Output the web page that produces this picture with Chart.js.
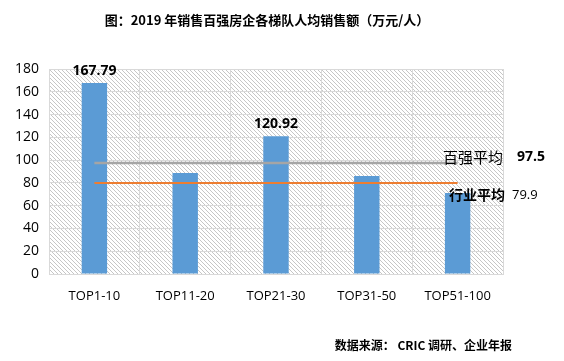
<!DOCTYPE html>
<html>
<head>
<meta charset="utf-8">
<script src="https://cdn.jsdelivr.net/npm/chart.js@4/dist/chart.umd.min.js"></script>
<style>
  html, body { margin: 0; padding: 0; background: #fff; }
  #wrap { width: 564px; height: 361px; position: relative; }
</style>
</head>
<body>
<div id="wrap"><canvas id="chart"></canvas></div>
<script>
// chart data
const categories = ['TOP1-10', 'TOP11-20', 'TOP21-30', 'TOP31-50', 'TOP51-100'];
const perCapitaSales = [167.79, 88.7, 120.92, 86.0, 71.1];
const labelledBars = [0, 2];
const top100Avg = 97.5;
const industryAvg = 79.9;
const yTicks = [0, 20, 40, 60, 80, 100, 120, 140, 160, 180];

const titleText = '图：2019 年销售百强房企各梯队人均销售额（万元/人）';
const sourceText = '数据来源： CRIC 调研、企业年报';

const cjk = '"Noto Sans CJK SC", "Noto Sans", sans-serif';
const latin = '"Open Sans", "Liberation Sans", sans-serif';

// diagonal hatch fill behind the plot area (pixel pattern, "\" direction)
function makeHatch(ctx) {
  const p = document.createElement('canvas');
  p.width = 4; p.height = 4;
  const c = p.getContext('2d');
  c.fillStyle = '#ffffff';
  c.fillRect(0, 0, 4, 4);
  c.fillStyle = '#c6c6c6';
  for (let i = 0; i < 4; i++) c.fillRect(i, i, 1, 1);
  return ctx.createPattern(p, 'repeat');
}

const backgroundPlugin = {
  id: 'hatchBg',
  beforeDraw(chart) {
    const { ctx, chartArea: a } = chart;
    ctx.save();
    ctx.fillStyle = makeHatch(ctx);
    ctx.fillRect(a.left, a.top, a.right - a.left, a.bottom - a.top);
    ctx.restore();
  }
};

const textPlugin = {
  id: 'texts',
  afterDraw(chart) {
    const { ctx } = chart;
    const x = chart.scales.x, y = chart.scales.y;
    ctx.save();
    ctx.fillStyle = '#000';
    ctx.textBaseline = 'middle';

    // title
    ctx.textAlign = 'center';
    ctx.font = 'bold 13px ' + cjk;
    ctx.fillText(titleText, 267, 20);

    // source
    ctx.textAlign = 'right';
    ctx.font = 'bold 12px ' + cjk;
    ctx.fillText(sourceText, 512, 345);

    // bar value labels
    ctx.textAlign = 'center';
    ctx.font = 'bold 14px ' + latin;
    labelledBars.forEach(i => {
      ctx.fillText(perCapitaSales[i].toFixed(2), x.getPixelForValue(i), y.getPixelForValue(perCapitaSales[i]) - 12);
    });

    // average labels
    ctx.textAlign = 'left';
    ctx.font = '15px ' + cjk;
    ctx.fillText('百强平均', 443, 157);
    ctx.font = 'bold 14px ' + latin;
    ctx.fillText(String(top100Avg), 517, 157);

    ctx.font = 'bold 14px ' + cjk;
    ctx.fillText('行业平均', 449, 195);
    ctx.font = '13px ' + latin;
    ctx.fillText(String(industryAvg), 512, 195);
    ctx.restore();
  }
};

new Chart(document.getElementById('chart'), {
  data: {
    labels: categories,
    datasets: [
      {
        type: 'line',
        label: '百强平均',
        data: categories.map(() => top100Avg),
        borderColor: '#a5a5a5',
        borderWidth: 2.5,
        pointRadius: 0,
        order: 0
      },
      {
        type: 'line',
        label: '行业平均',
        data: categories.map(() => industryAvg),
        borderColor: '#ed7d31',
        borderWidth: 2,
        pointRadius: 0,
        order: 0
      },
      {
        type: 'bar',
        label: '人均销售额',
        data: perCapitaSales,
        backgroundColor: '#5b9bd5',
        categoryPercentage: 1,
        barPercentage: 0.28,
        order: 1
      }
    ]
  },
  options: {
    responsive: true,
    maintainAspectRatio: false,
    animation: false,
    layout: { padding: { top: 69, left: 0, right: 61, bottom: 57 } },
    plugins: {
      legend: { display: false },
      tooltip: { enabled: false }
    },
    scales: {
      x: {
        offset: true,
        grid: { offset: true, color: '#d9d9d9', drawTicks: false },
        border: { color: '#d9d9d9' },
        ticks: { color: '#000', padding: 14, font: { family: latin, size: 13 } },
        afterFit(scale) { scale.height = 30; }
      },
      y: {
        min: 0,
        max: 180,
        afterBuildTicks(scale) { scale.ticks = yTicks.map(v => ({ value: v })); },
        grid: { color: '#d9d9d9', drawTicks: false },
        border: { color: '#d9d9d9' },
        ticks: { color: '#000', padding: 10, font: { family: latin, size: 14 } },
        afterFit(scale) { scale.width = 49; }
      }
    }
  },
  plugins: [backgroundPlugin, textPlugin]
});
</script>
</body>
</html>
